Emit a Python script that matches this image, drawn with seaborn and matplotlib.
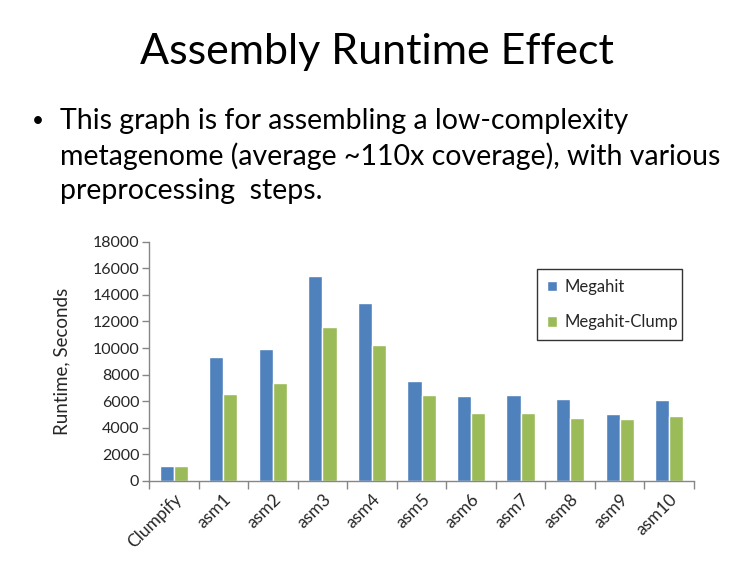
import matplotlib
matplotlib.use("Agg")
import matplotlib.pyplot as plt
import seaborn as sns
import pandas as pd
import numpy as np

categories = ["Clumpify", "asm1", "asm2", "asm3", "asm4", "asm5", "asm6", "asm7", "asm8", "asm9", "asm10"]
megahit = [1130, 9320, 9930, 15410, 13380, 7520, 6390, 6470, 6170, 5040, 6090]
megahit_clump = [1130, 6540, 7370, 11580, 10230, 6470, 5110, 5110, 4740, 4660, 4890]
series_names = ["Megahit", "Megahit-Clump"]
y_ticks = list(range(0, 18001, 2000))

df = pd.DataFrame({
    "cat": categories * 2,
    "val": megahit + megahit_clump,
    "series": [series_names[0]] * len(categories) + [series_names[1]] * len(categories),
})

sns.set_theme(style="white")
plt.rcParams["font.family"] = ["Lato", "DejaVu Sans"]

fig = plt.figure(figsize=(7.42, 5.65), dpi=100)
ax = fig.add_axes([149/742, 1-481/565, 545/742, (481-241.7)/565])

sns.barplot(data=df, x="cat", y="val", hue="series", order=categories,
            hue_order=series_names, palette=["#4F81BD", "#9BBB59"],
            saturation=1, width=0.57, gap=0, ax=ax, errorbar=None)

ax.set_xlim(-0.5, len(categories) - 0.5)
ax.set_ylim(0, 18000)
ax.set_yticks(y_ticks)
ax.set_yticklabels([str(t) for t in y_ticks], fontsize=11.5)
ax.set_xticks(range(len(categories)))
ax.set_xticklabels(categories, rotation=45, ha="right", rotation_mode="anchor", fontsize=12.5)
ax.set_xticks(np.arange(-0.5, len(categories), 1.0), minor=True)
ax.tick_params(axis="x", which="major", length=0, pad=7)
ax.tick_params(axis="x", which="minor", length=6, color="#868686", width=1, direction="out", bottom=True)
ax.tick_params(axis="y", length=5, color="#868686", width=1, direction="out", left=True, pad=2)
for s in ["top", "right"]:
    ax.spines[s].set_visible(False)
for s in ["left", "bottom"]:
    ax.spines[s].set_color("#868686")
    ax.spines[s].set_linewidth(1)
ax.set_xlabel("")
ax.set_ylabel("Runtime, Seconds", fontsize=13.5)
ax.yaxis.set_label_coords((70 - 149) / 545, 0.5)

leg = ax.legend(loc="upper left", bbox_to_anchor=(0.712, 0.886, 0.266, 0.0), mode="expand",
                frameon=True, fancybox=False,
                edgecolor="black", fontsize=12, handlelength=0.6, handleheight=0.6,
                labelspacing=1.15, borderpad=0.6, handletextpad=0.45, borderaxespad=0)
leg.get_frame().set_linewidth(1)
leg.get_frame().set_facecolor("white")

fig.text(377/742, 1-52/565, "Assembly Runtime Effect", ha="center", va="center", fontsize=31, color="black")
fig.text(32/742, 1-121/565, "•", ha="left", va="center", fontsize=15, color="black")
body = "This graph is for assembling a low-complexity\nmetagenome (average ~110x coverage), with various\npreprocessing  steps."
fig.text(60/742, 1-108/565, body, ha="left", va="top", fontsize=20.5, color="black", linespacing=1.38)

fig.savefig("out.png", dpi=100)
